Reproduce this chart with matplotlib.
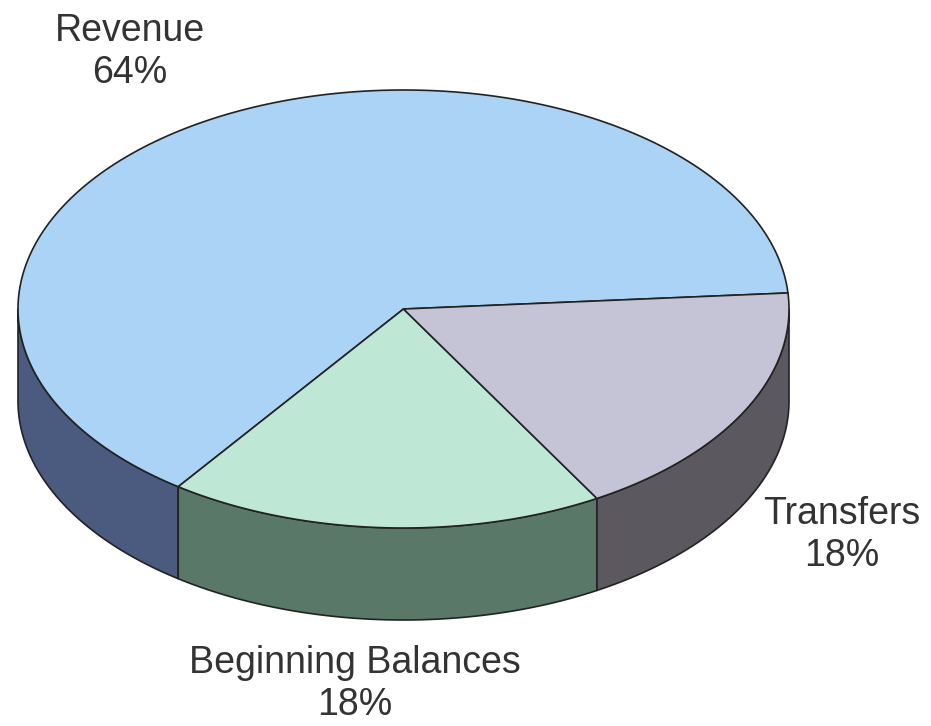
import numpy as np
import matplotlib.pyplot as plt
from matplotlib.patches import Polygon

plt.rcParams['font.family'] = ['Liberation Sans', 'DejaVu Sans']

# data (shares; labels show them rounded)
labels = ['Revenue', 'Beginning Balances', 'Transfers']
values = [63.9, 18.3, 17.8]
top_colors = ['#aad3f5', '#bfe7d6', '#c5c4d6']
side_colors = ['#4b5a7f', '#5a7867', '#5b5860']
label_pos = [(130, 52), (355, 684), (842, 535)]

# geometry of the 3d pie (pixel space)
cx, cy = 403.5, 309
a, b = 385.5, 219
depth = 92
start = 4.2  # degrees, where Revenue starts going counter-clockwise

fig = plt.figure(figsize=(9.31, 7.26), dpi=100)
ax = fig.add_axes([0, 0, 1, 1])
ax.set_xlim(0, 931)
ax.set_ylim(726, 0)
ax.axis('off')


def pt(t, dy=0):
    r = np.radians(t)
    return cx + a * np.cos(r), cy - b * np.sin(r) + dy


fracs = np.array(values) / sum(values)
bounds = start + np.concatenate([[0], np.cumsum(fracs) * 360])

# sides first (only the front half, 180..360 deg, is visible)
for i in range(len(values)):
    t1, t2 = bounds[i], bounds[i + 1]
    for off in (0, 360):
        lo, hi = max(t1, 180 + off), min(t2, 360 + off)
        if hi <= lo:
            continue
        ts = np.linspace(lo, hi, 100)
        top = [pt(t) for t in ts]
        bot = [pt(t, depth) for t in ts[::-1]]
        ax.add_patch(Polygon(top + bot, closed=True, facecolor=side_colors[i],
                             edgecolor='#222222', lw=1.2, joinstyle='round'))

# top faces
for i in range(len(values)):
    ts = np.linspace(bounds[i], bounds[i + 1], 200)
    verts = [(cx, cy)] + [pt(t) for t in ts]
    ax.add_patch(Polygon(verts, closed=True, facecolor=top_colors[i],
                         edgecolor='#222222', lw=1.2, joinstyle='round'))

for lab, v, (x, y) in zip(labels, values, label_pos):
    ax.text(x, y, f'{lab}\n{v:.0f}%', ha='center', va='center', fontsize=27,
            color='#333333', linespacing=1.22)

fig.savefig('out.png', dpi=100, facecolor='white')
